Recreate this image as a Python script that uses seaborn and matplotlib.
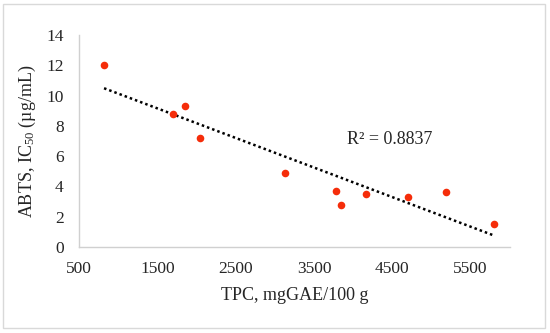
import matplotlib
matplotlib.use("Agg")
import matplotlib.pyplot as plt
import seaborn as sns
import pandas as pd
import numpy as np
from matplotlib.patches import Rectangle

tpc = [820, 1700, 1850, 2040, 3130, 3780, 3850, 4160, 4700, 5190, 5800]
abts = [12.0, 8.8, 9.3, 7.2, 4.9, 3.7, 2.8, 3.5, 3.3, 3.6, 1.5]
x_ticks = [500, 1500, 2500, 3500, 4500, 5500]
y_ticks = [0, 2, 4, 6, 8, 10, 12, 14]
r2_label = "R² = 0.8837"

sns.set_style("white")
plt.rcParams['font.family'] = ['Liberation Serif', 'DejaVu Serif']
plt.rcParams['mathtext.fontset'] = 'custom'
plt.rcParams['mathtext.rm'] = 'Liberation Serif'
plt.rcParams['mathtext.it'] = 'Liberation Serif:italic'

df = pd.DataFrame({"TPC": tpc, "ABTS": abts})

fig = plt.figure(figsize=(5.5, 3.33), dpi=100)
ax = fig.add_axes([0.1436, 0.2583, 0.927 - 0.1436, 0.895 - 0.2583])

sns.regplot(data=df, x="TPC", y="ABTS", ax=ax, ci=None,
            scatter_kws=dict(color="#f52d0a", s=30, linewidths=0, alpha=1, zorder=3),
            line_kws=dict(color="black", linestyle=(0, (1, 1.2)), linewidth=1.8, zorder=2))

ax.set_xlim(500, 6000)
ax.set_ylim(0, 14)
ax.set_xticks(x_ticks)
ax.set_yticks(y_ticks)
ax.tick_params(axis='both', length=0, labelsize=12.5, colors="#262626")
ax.tick_params(axis='y', pad=11)
ax.tick_params(axis='x', pad=10)
for s in ["top", "right"]:
    ax.spines[s].set_visible(False)
for s in ["left", "bottom"]:
    ax.spines[s].set_color("#d0d0d0")
    ax.spines[s].set_linewidth(1.0)

ax.set_xlabel("TPC, mgGAE/100 g", fontsize=13, color="#262626", labelpad=7)
ax.set_ylabel("ABTS, IC$_{50}$ (µg/mL)", fontsize=13, color="#262626", labelpad=6)

ax.text(3920, 7.07, r2_label, fontsize=13, color="#262626", ha="left", va="center")

fig.patches.append(Rectangle((3/550, 1 - 328/333), (545 - 3)/550, (328 - 4)/333,
                             transform=fig.transFigure, fill=False,
                             edgecolor="#d9d9d9", linewidth=1.0))

fig.savefig("out.png", dpi=100)
